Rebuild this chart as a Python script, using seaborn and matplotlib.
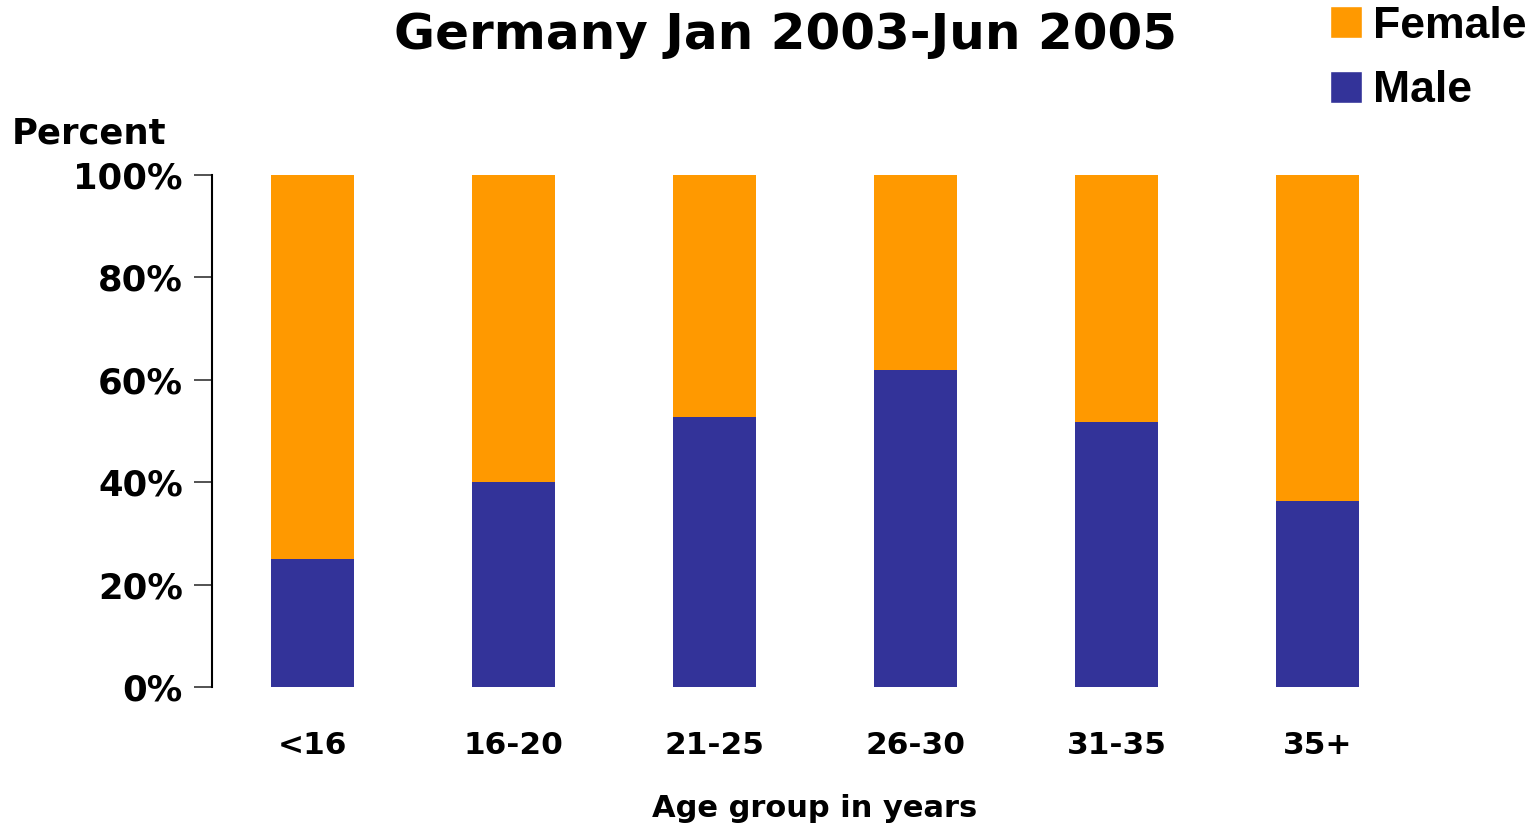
import matplotlib
matplotlib.use("Agg")
import matplotlib.pyplot as plt
import seaborn as sns
import pandas as pd
from matplotlib.patches import Patch

categories = ["<16", "16-20", "21-25", "26-30", "31-35", "35+"]
male = [25.0, 40.0, 52.7, 61.9, 51.8, 36.3]
female = [100 - m for m in male]

sns.set_theme(style="white")
plt.rcParams['font.family'] = ['DejaVu Sans']
plt.rcParams['text.color'] = 'black'
plt.rcParams['xtick.color'] = 'black'
plt.rcParams['ytick.color'] = 'black'
plt.rcParams['axes.labelcolor'] = 'black'

df = pd.DataFrame({"age": categories, "male": male,
                   "total": [m + f for m, f in zip(male, female)]})

fig = plt.figure(figsize=(15.4, 8.26), dpi=100)
ax = fig.add_axes([212/1540, 1-687/826, (1418-212)/1540, (687-175)/826])

orange = "#FF9900"
navy = "#333399"
sns.barplot(data=df, x="age", y="total", color=orange, width=0.41,
            saturation=1, ax=ax, order=categories)
sns.barplot(data=df, x="age", y="male", color=navy, width=0.41,
            saturation=1, ax=ax, order=categories)
for p in ax.patches:
    p.set_edgecolor("none")
    p.set_linewidth(0)

ax.set_xlim(-0.5, 5.5)
ax.set_ylim(0, 100)
ax.set_yticks([0, 20, 40, 60, 80, 100])
ax.set_yticklabels(["0%", "20%", "40%", "60%", "80%", "100%"],
                   fontsize=25.5, fontweight="bold")
ax.set_xticklabels(categories, fontsize=22.5, fontweight="bold")
ax.tick_params(axis="y", length=13, width=1.3, color="#444444", pad=8, direction="out", left=True)
ax.tick_params(axis="x", length=0, pad=32)
for s in ["top", "right", "bottom"]:
    ax.spines[s].set_visible(False)
ax.spines["left"].set_color("black")
ax.spines["left"].set_linewidth(1.5)
ax.set_xlabel("Age group in years", fontsize=22, fontweight="bold", labelpad=24)
ax.set_ylabel("")

fig.text(12/1540, 1-133/826, "Percent", fontsize=25.5, fontweight="bold", va="center", ha="left")
fig.text(786/1540, 1-35/826, "Germany Jan 2003-Jun 2005", fontsize=36, fontweight="bold",
         va="center", ha="center")

handles = [Patch(facecolor=orange, label="Female"), Patch(facecolor=navy, label="Male")]
leg = fig.legend(handles=handles, loc="upper left", bbox_to_anchor=(1312/1540, 1+12/826),
                 frameon=False, prop={"family": "Liberation Sans", "weight": "bold", "size": 32},
                 handlelength=0.72, handleheight=0.72, handletextpad=0.245, labelspacing=0.53,
                 borderaxespad=0)

fig.savefig("out.png", dpi=100)
